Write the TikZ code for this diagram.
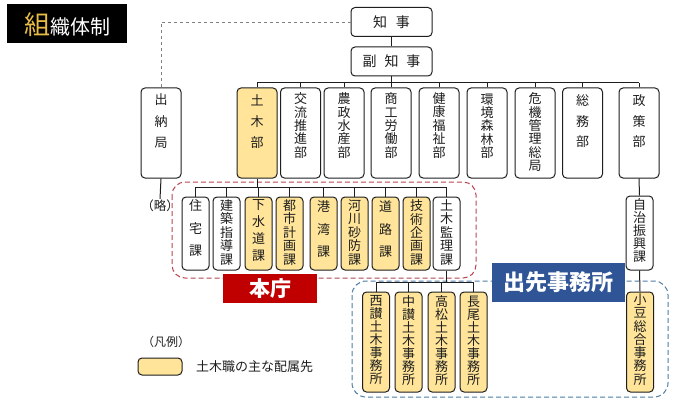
\documentclass[tikz,border=0pt]{standalone}
\usepackage{fontspec}
\setmainfont{Noto Sans CJK JP}
\definecolor{ink}{RGB}{30,30,30}
\definecolor{yel}{RGB}{255,228,153}
\definecolor{rdash}{RGB}{185,70,80}
\definecolor{bdash}{RGB}{75,125,165}
\definecolor{honred}{RGB}{192,0,0}
\definecolor{deptblue}{RGB}{47,85,151}
\definecolor{gold}{RGB}{232,188,70}
\begin{document}
\begin{tikzpicture}[x=1pt,y=-1pt,
  box/.style={draw=ink, line width=1pt, rounded corners=4pt, fill=white, inner sep=0pt},
  ybox/.style={box, fill=yel},
  dept/.style={minimum width=40pt, minimum height=90pt},
  sect/.style={minimum width=27pt, minimum height=73pt},
  office/.style={minimum width=27pt, minimum height=100pt},
  vt/.style={inner sep=0pt, align=center, anchor=north, text=ink, font=\fontsize{13}{#1}\selectfont},
  conn/.style={draw=ink, line width=1pt},
]
\useasboundingbox (0,0) rectangle (684,401);
\fill[white] (0,0) rectangle (684,401);

% title
\node[fill=black, minimum width=120pt, minimum height=39pt, anchor=north west, inner sep=0pt] (title) at (7,4) {};
\node[anchor=base, inner sep=0pt, text=white] (titletext) at (67,35) {{\color{gold}\fontsize{26}{26}\selectfont 組}{\fontsize{20}{20}\selectfont 織体制}};

% dashed groups
\draw[rdash, dash pattern=on 5pt off 3pt, line width=1pt, rounded corners=13pt] (172,182) rectangle (476,278);
\draw[bdash, dash pattern=on 5pt off 3pt, line width=1pt, rounded corners=14pt] (352,281) rectangle (668,397);

% top
\node[box, minimum width=81pt, minimum height=29pt, font=\fontsize{14}{14}\selectfont, text=ink] (chiji) at (391.5,22) {知\hspace{9pt}事};
\node[box, minimum width=81pt, minimum height=29pt, font=\fontsize{14}{14}\selectfont, text=ink] (fuku) at (391.5,61.5) {副\hspace{8pt}知\hspace{8pt}事};

% departments
\node[box,dept] (suito) at (161,133) {};
\node[vt=21.5] (t-suito) at ([yshift=-6pt]suito.north) {出\\納\\局};
\node[ybox,dept] (doboku) at (257,133) {};
\node[vt=21] (t-doboku) at ([yshift=-7pt]doboku.north) {土\\木\\部};
\node[box,dept] (koryu) at (300.5,133) {};
\node[vt=13.4] (t-koryu) at ([yshift=-5pt]koryu.north) {交\\流\\推\\進\\部};
\node[box,dept] (nosei) at (344,133) {};
\node[vt=13.4] (t-nosei) at ([yshift=-5pt]nosei.north) {農\\政\\水\\産\\部};
\node[box,dept] (shoko) at (391,133) {};
\node[vt=13.4] (t-shoko) at ([yshift=-5pt]shoko.north) {商\\工\\労\\働\\部};
\node[box,dept] (kenko) at (439,133) {};
\node[vt=13.4] (t-kenko) at ([yshift=-5pt]kenko.north) {健\\康\\福\\祉\\部};
\node[box,dept] (kankyo) at (487,133) {};
\node[vt=13.4] (t-kankyo) at ([yshift=-6pt]kankyo.north) {環\\境\\森\\林\\部};
\node[box,dept] (kiki) at (535,133) {};
\node[vt=13.4] (t-kiki) at ([yshift=-5pt]kiki.north) {危\\機\\管\\理\\総\\局};
\node[box,dept] (somu) at (582.5,133) {};
\node[vt=20.5] (t-somu) at ([yshift=-7pt]somu.north) {総\\務\\部};
\node[box,dept] (seisaku) at (639,133) {};
\node[vt=20.5] (t-seisaku) at ([yshift=-7pt]seisaku.north) {政\\策\\部};

% top connectors
\draw[dashed, draw=gray, line width=0.6pt] (chiji.west) -- (suito.north |- chiji.west) -- (suito.north);
\draw[conn] (chiji.south) -- (fuku.north);
\coordinate (busL) at (257,83);
\coordinate (busR) at (639,83);
\draw[conn] (busL) -- (busR);
\draw[conn] (fuku.south) -- (fuku.south |- busL);
\foreach \d in {doboku,koryu,nosei,shoko,kenko,kankyo,kiki,somu,seisaku}
  \draw[conn] (\d.north) -- (\d.north |- busL);

% (略)
\node[inner sep=1pt, text=ink, font=\fontsize{12.5}{12.5}\selectfont] (ryaku) at (160,206) {（略）};
\draw[conn] (suito.south) -- (ryaku.north);

% sections
\node[box,sect] (jutaku) at (195.5,233.5) {};
\node[vt=22.5] (t-jutaku) at ([yshift=-3pt]jutaku.north) {住\\宅\\課};
\node[box,sect] (kenchiku) at (226.5,233.5) {};
\node[vt=13.4] (t-kenchiku) at ([yshift=-3pt]kenchiku.north) {建\\築\\指\\導\\課};
\node[ybox,sect] (gesui) at (258.5,233.5) {};
\node[vt=17] (t-gesui) at ([yshift=-3pt]gesui.north) {下\\水\\道\\課};
\node[ybox,sect] (toshi) at (289.5,233.5) {};
\node[vt=13.4] (t-toshi) at ([yshift=-3pt]toshi.north) {都\\市\\計\\画\\課};
\node[ybox,sect] (kowan) at (323.5,233.5) {};
\node[vt=22.5] (t-kowan) at ([yshift=-4pt]kowan.north) {港\\湾\\課};
\node[ybox,sect] (kasen) at (354.5,233.5) {};
\node[vt=13.4] (t-kasen) at ([yshift=-3pt]kasen.north) {河\\川\\砂\\防\\課};
\node[ybox,sect] (doro) at (385.5,233.5) {};
\node[vt=22.5] (t-doro) at ([yshift=-4pt]doro.north) {道\\路\\課};
\node[ybox,sect] (gijutsu) at (416.5,233.5) {};
\node[vt=13.4] (t-gijutsu) at ([yshift=-3pt]gijutsu.north) {技\\術\\企\\画\\課};
\node[box,sect] (kanri) at (446.5,233.5) {};
\node[vt=13.4] (t-kanri) at ([yshift=-3pt]kanri.north) {土\\木\\監\\理\\課};

\coordinate (sbus) at (0,187);
\draw[conn] (jutaku.north |- sbus) -- (kanri.north |- sbus);
\draw[conn] (doboku.south) -- (doboku.south |- sbus);
\foreach \s in {jutaku,kenchiku,gesui,toshi,kowan,kasen,doro,gijutsu,kanri}
  \draw[conn] (\s.north) -- (\s.north |- sbus);

% 自治振興課
\node[box,sect, minimum height=74pt] (jichi) at (639.5,233) {};
\node[vt=13] (t-jichi) at ([yshift=-3pt]jichi.north) {自\\治\\振\\興\\課};
\draw[conn] (seisaku.south) -- (jichi.north);

% labels
\node[fill=honred, minimum width=94pt, minimum height=29pt, inner sep=0pt, text=white, font=\fontsize{21}{21}\selectfont\bfseries] (honcho) at (270,288.5) {本庁};
\node[fill=deptblue, minimum width=133pt, minimum height=39pt, inner sep=0pt, text=white, font=\fontsize{22}{22}\selectfont\bfseries] (dedaki) at (558.5,282.5) {出先事務所};

% offices
\node[ybox,office] (seisan) at (376,342) {};
\node[vt=13] (t-seisan) at ([yshift=-4pt]seisan.north) {西\\讃\\土\\木\\事\\務\\所};
\node[ybox,office] (chusan) at (408.5,342) {};
\node[vt=13] (t-chusan) at ([yshift=-4pt]chusan.north) {中\\讃\\土\\木\\事\\務\\所};
\node[ybox,office] (takamatsu) at (441.5,342) {};
\node[vt=13] (t-takamatsu) at ([yshift=-4pt]takamatsu.north) {高\\松\\土\\木\\事\\務\\所};
\node[ybox,office] (nagao) at (473.5,342) {};
\node[vt=13] (t-nagao) at ([yshift=-4pt]nagao.north) {長\\尾\\土\\木\\事\\務\\所};
\node[ybox,office] (shodo) at (640,342) {};
\node[vt=13.3] (t-shodo) at ([yshift=-2pt]shodo.north) {小\\豆\\総\\合\\事\\務\\所};

\coordinate (obus) at (0,282);
\draw[conn] (seisan.north |- obus) -- (nagao.north |- obus);
\draw[conn] (kanri.south) -- (kanri.south |- obus);
\foreach \o in {seisan,chusan,takamatsu,nagao}
  \draw[conn] (\o.north) -- (\o.north |- obus);
\draw[conn] (jichi.south) -- (shodo.north);

% legend
\node[inner sep=0pt, text=ink, font=\fontsize{12}{12}\selectfont] (hanrei) at (166,342) {（凡例）};
\node[ybox, minimum width=44pt, minimum height=17pt] (legbox) at (160,366.5) {};
\node[anchor=west, inner sep=0pt, text=ink, font=\fontsize{13}{13}\selectfont] (legtext) at (196,367) {土木職の主な配属先};
\end{tikzpicture}
\end{document}
